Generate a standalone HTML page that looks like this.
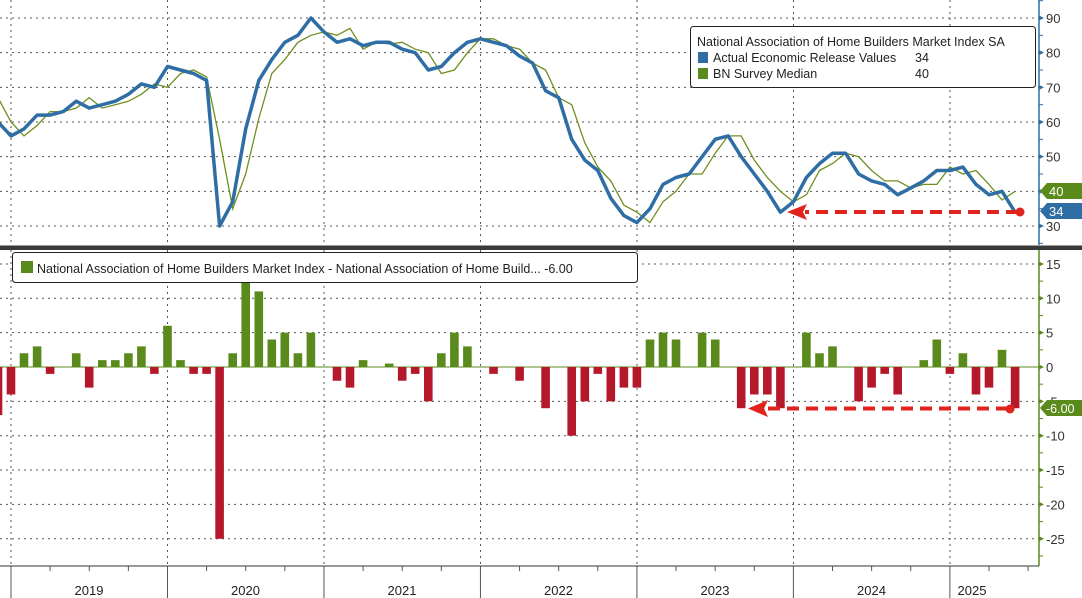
<!DOCTYPE html>
<html><head><meta charset="utf-8"><style>
html,body{margin:0;padding:0;background:#fff;}
svg{display:block;font-family:"Liberation Sans",sans-serif;}
</style></head><body>
<svg id="c" width="1082" height="598" viewBox="0 0 1082 598" xmlns="http://www.w3.org/2000/svg"></svg>
<script>
const A={"-1":60,0:56,1:58,2:62,3:62,4:63,5:66,6:64,7:65,8:66,9:68,10:71,11:70,12:76,13:75,14:74,15:72,16:30,17:37,18:58,19:72,20:78,21:83,22:85,23:90,24:86,25:83,26:84,27:82,28:83,29:83,30:81,31:80,32:75,33:76,34:80,35:83,36:84,37:83,38:82,39:79,40:77,41:69,42:67,43:55,44:49,45:46,46:38,47:33,48:31,49:35,50:42,51:44,52:45,53:50,54:55,55:56,56:50,57:45,58:40,59:34,60:37,61:44,62:48,63:51,64:51,65:45,66:43,67:42,68:39,69:41,70:43,71:46,72:46,73:47,74:42,75:39,76:40,77:34};
const D={"-1":-7,0:-4,1:2,2:3,3:-1,4:0,5:2,6:-3,7:1,8:1,9:2,10:3,11:-1,12:6,13:1,14:-1,15:-1,16:-25,17:2,18:13,19:11,20:4,21:5,22:2,23:5,24:0,25:-2,26:-3,27:1,28:0,29:0.5,30:-2,31:-1,32:-5,33:2,34:5,35:3,36:0,37:-1,38:0,39:-2,40:0,41:-6,42:0,43:-10,44:-5,45:-1,46:-5,47:-3,48:-3,49:4,50:5,51:4,52:0,53:5,54:4,55:0,56:-6,57:-4,58:-4,59:-6,60:0,61:5,62:2,63:3,64:0,65:-5,66:-3,67:-1,68:-4,69:0,70:1,71:4,72:-1,73:2,74:-4,75:-3,76:2.5,77:-6};
const X=m=>11+13.04*m;
const YT=v=>18+(90-v)*3.467;
const YB=v=>367-v*6.87;
let s='';
s+='<g stroke="#555" stroke-width="1" stroke-dasharray="2,4">';
for(let v=30;v<=90;v+=10)s+=`<line x1="0" x2="1039" y1="${YT(v)}" y2="${YT(v)}"/>`;
for(const v of [15,10,5,-5,-10,-15,-20,-25])s+=`<line x1="0" x2="1039" y1="${YB(v)}" y2="${YB(v)}"/>`;
for(let y=0;y<7;y++){const x=11+156.5*y;s+=`<line x1="${x}" x2="${x}" y1="0" y2="245"/><line x1="${x}" x2="${x}" y1="250" y2="566"/>`;}
s+='</g>';
s+=`<line x1="0" x2="1039" y1="367" y2="367" stroke="#5a8a1c" stroke-width="1"/>`;
let pa='',ps='';
for(let m=-1;m<=77;m++){pa+=(m<0?'M':'L')+X(m).toFixed(1)+','+YT(A[m]).toFixed(1);ps+=(m<0?'M':'L')+X(m).toFixed(1)+','+YT(A[m]-D[m]).toFixed(1);}
s+=`<path d="${ps}" fill="none" stroke="#6f8f1f" stroke-width="1.3"/>`;
s+=`<path d="${pa}" fill="none" stroke="#2f6ea5" stroke-width="3.5" stroke-linejoin="round"/>`;
for(let m=-1;m<=77;m++){const d=D[m];if(!d)continue;const y0=YB(0),y1=YB(d);s+=`<rect x="${(X(m)-4.3).toFixed(1)}" y="${Math.min(y0,y1)}" width="8.6" height="${Math.abs(y1-y0)}" fill="${d>0?'#5a8a1c':'#b5182b'}"/>`;}
s+='<rect x="0" y="245.5" width="1082" height="4.5" fill="#3a3a3a"/>';
s+='<line x1="1039" x2="1039" y1="0" y2="245" stroke="#2f6ea5" stroke-width="1.5"/>';
s+='<line x1="1039" x2="1039" y1="250" y2="566" stroke="#5a8a1c" stroke-width="1.5"/>';
s+='<line x1="0" x2="1039" y1="566" y2="566" stroke="#333" stroke-width="1"/>';
for(let v=30;v<=90;v+=10){const y=YT(v);s+=`<path d="M1039,${y-2.5}L1044,${y}L1039,${y+2.5}Z" fill="#2f6ea5"/><text x="1046" y="${y+5}" font-size="13" fill="#333">${v}</text>`;}
for(let v=25;v<=95;v+=10){const y=YT(v);s+=`<line x1="1039" x2="1043" y1="${y}" y2="${y}" stroke="#2f6ea5"/>`;}
for(let v=15;v>=-25;v-=5){const y=YB(v);s+=`<path d="M1039,${y-2.5}L1044,${y}L1039,${y+2.5}Z" fill="#5a8a1c"/><text x="1046" y="${y+5}" font-size="13" fill="#333">${v}</text>`;}
for(let v=12.5;v>=-27.5;v-=5){const y=YB(v);s+=`<line x1="1039" x2="1043" y1="${y}" y2="${y}" stroke="#5a8a1c"/>`;}
for(let q=0;q<27;q++){const x=11+13.04*3*q;s+=`<line x1="${x}" x2="${x}" y1="566" y2="${q%4==0?598:571}" stroke="#555"/>`;}
const yrs=[2019,2020,2021,2022,2023,2024,2025];
yrs.forEach((y,i)=>{const x=i<6?11+156.5*i+78:972;s+=`<text x="${x}" y="595" font-size="13" fill="#222" text-anchor="middle">${y}</text>`;});
s+='<path d="M1040,191L1047,183H1082V199H1047Z" fill="#5a8a1c"/><text x="1049" y="196" font-size="13" fill="#fff">40</text>';
s+='<path d="M1040,211L1047,203H1082V219H1047Z" fill="#2f6ea5"/><text x="1049" y="216" font-size="13" fill="#fff">34</text>';
s+='<path d="M1040,408L1047,400H1082V416H1047Z" fill="#5a8a1c"/><text x="1046" y="413" font-size="12.5" fill="#fff">-6.00</text>';
s+='<line x1="1018" x2="805" y1="212" y2="212" stroke="#e0231c" stroke-width="4" stroke-dasharray="12,7"/><path d="M787,212L807,204L803,212L807,220Z" fill="#e0231c"/><circle cx="1020" cy="212" r="4.5" fill="#e0231c"/>';
s+='<line x1="1008" x2="765" y1="408.5" y2="408.5" stroke="#e0231c" stroke-width="4" stroke-dasharray="12,7"/><path d="M748,408.5L768,400L764,408.5L768,417Z" fill="#e0231c"/><circle cx="1010" cy="409" r="4.5" fill="#e0231c"/>';
s+='<rect x="690.5" y="26.5" width="345" height="61" rx="3" fill="#fff" stroke="#222"/>';
s+='<text x="697" y="46" font-size="12.5" fill="#222">National Association of Home Builders Market Index SA</text>';
s+='<rect x="698" y="52" width="10" height="11" fill="#2f6ea5"/><text x="713" y="62" font-size="12.5" fill="#222">Actual Economic Release Values</text><text x="915" y="62" font-size="12.5" fill="#222">34</text>';
s+='<rect x="698" y="68" width="10" height="11" fill="#5a8a1c"/><text x="713" y="78" font-size="12.5" fill="#222">BN Survey Median</text><text x="915" y="78" font-size="12.5" fill="#222">40</text>';
s+='<rect x="12.5" y="252.5" width="625" height="30" rx="3" fill="#fff" stroke="#222"/>';
s+='<rect x="21" y="261" width="12" height="12" fill="#5a8a1c"/><text x="37" y="273" font-size="12.5" fill="#222">National Association of Home Builders Market Index - National Association of Home Build...  -6.00</text>';
document.getElementById('c').innerHTML=s;
</script>
</body></html>
